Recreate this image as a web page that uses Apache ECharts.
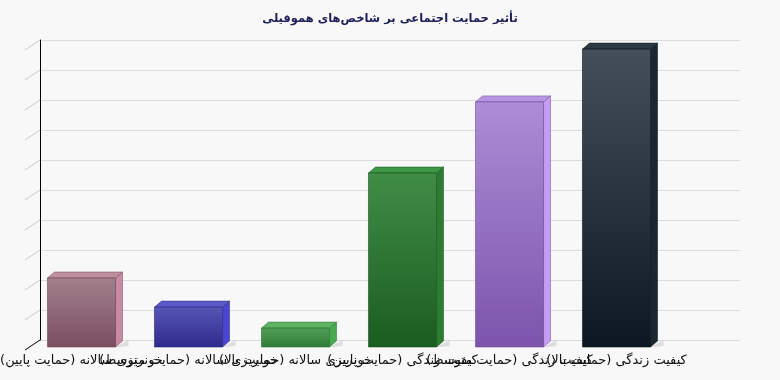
<!DOCTYPE html>
<html><head><meta charset="utf-8">
<script src="https://cdn.jsdelivr.net/npm/echarts@6/dist/echarts.min.js"></script>
<style>html,body{margin:0;padding:0;background:#f8f8f8}#c{width:780px;height:380px}</style>
</head><body><div id="c"></div>
<script>
const titleText = 'تأثیر حمایت اجتماعی بر شاخص‌های هموفیلی';
const categories = [
  'خونریزی سالانه (حمایت پایین)',
  'خونریزی سالانه (حمایت متوسط)',
  'خونریزی سالانه (حمایت بالا)',
  'کیفیت زندگی (حمایت پایین)',
  'کیفیت زندگی (حمایت متوسط)',
  'کیفیت زندگی (حمایت بالا)'
];
const values = [23, 13.3, 6.3, 58, 81.7, 99.3];
const yTicks = [0, 10, 20, 30, 40, 50, 60, 70, 80, 90, 100];

const barStyles = [
  {front: ['#a2808c', '#7a4f61'], top: '#bf8f9f', side: '#c98aa4', edge: '#6e4456'},
  {front: ['#5656b6', '#2f2a8c'], top: '#5c5ac8', side: '#4a46d0', edge: '#2a2680'},
  {front: ['#52a058', '#2f7d35'], top: '#5fb364', side: '#48aa4e', edge: '#2a6e30'},
  {front: ['#408d47', '#1b5c20'], top: '#3e9845', side: '#2c7c32', edge: '#17501b'},
  {front: ['#ad8dd6', '#7c54ac'], top: '#b696e2', side: '#c49cf2', edge: '#6e4a9c'},
  {front: ['#444f59', '#0c1721'], top: '#2d3944', side: '#1b2630', edge: '#0a121a'}
];
const DX = 7, DY = -6;

const chart = echarts.init(document.getElementById('c'), null, {renderer: 'canvas'});
chart.setOption({
  backgroundColor: '#f8f8f8',
  animation: false,
  title: {
    text: titleText, left: 'center', top: 8,
    textStyle: {fontFamily: 'DejaVu Sans', fontSize: 11.5, fontWeight: 'bold', color: '#1e1e5a'}
  },
  grid: [
    {left: 40, right: 40, top: 40, bottom: 40, containLabel: false, outerBoundsMode: 'none'},
    {left: 28, right: 110, top: 47, bottom: 33, containLabel: false, outerBoundsMode: 'none'}
  ],
  xAxis: [
    {gridIndex: 0, type: 'value', min: 0, max: 1, show: false},
    {gridIndex: 1, type: 'category', data: categories,
     axisLine: {show: false}, axisTick: {show: false}, splitLine: {show: false},
     axisLabel: {interval: 0, hideOverlap: false, margin: 7, fontSize: 13,
                 fontFamily: 'DejaVu Sans', color: '#111'}}
  ],
  yAxis: [
    {gridIndex: 0, type: 'value', min: 0, max: 100, interval: 10,
     axisLine: {show: true, lineStyle: {color: '#000', width: 1}},
     axisTick: {show: false}, axisLabel: {show: false},
     splitLine: {show: true, lineStyle: {color: '#dcdcdc', width: 1}}},
    {gridIndex: 1, type: 'value', min: 0, max: 100, interval: 10, show: false,
     splitLine: {show: false}}
  ],
  series: [
    {
      type: 'custom', xAxisIndex: 0, yAxisIndex: 0, silent: true,
      data: yTicks.map(v => [0, v]),
      renderItem: function (params, api) {
        const p = api.coord([0, api.value(1)]);
        const x = params.coordSys.x;
        const isBase = api.value(1) === 0;
        return {type: 'line', shape: {x1: x, y1: p[1], x2: x - 15, y2: p[1] + 10},
                style: {stroke: isBase ? '#000' : '#c8c8c8', lineWidth: 1}};
      }
    },
    {
      type: 'custom', xAxisIndex: 1, yAxisIndex: 1, silent: true,
      data: values.map((v, i) => [i, v]),
      renderItem: function (params, api) {
        const i = api.value(0);
        const st = barStyles[i];
        const c0 = api.coord([i, 0]);
        const c1 = api.coord([i, api.value(1)]);
        const bw = api.size([1, 0])[0] * 0.636;
        const x0 = c0[0] - bw / 2, x1 = x0 + bw, y0 = c0[1], y1 = c1[1];
        return {type: 'group', children: [
          {type: 'polygon', shape: {points: [[x1, y0], [x1 + DX + 6, y0 - 7], [x1 + DX + 6, y0 - 1], [x1 + 4, y0]]},
           style: {fill: 'rgba(0,0,0,0.10)'}},
          {type: 'polygon', shape: {points: [[x1, y1], [x1 + DX, y1 + DY], [x1 + DX, y0 + DY], [x1, y0]]},
           style: {fill: st.side, stroke: st.edge, lineWidth: 0.5}},
          {type: 'polygon', shape: {points: [[x0, y1], [x1, y1], [x1 + DX, y1 + DY], [x0 + DX, y1 + DY]]},
           style: {fill: st.top, stroke: st.edge, lineWidth: 0.5}},
          {type: 'rect', shape: {x: x0, y: y1, width: bw, height: y0 - y1},
           style: {fill: new echarts.graphic.LinearGradient(0, 0, 0, 1, [
             {offset: 0, color: st.front[0]}, {offset: 1, color: st.front[1]}]),
             stroke: st.edge, lineWidth: 0.6}}
        ]};
      }
    }
  ]
});
</script></body></html>
